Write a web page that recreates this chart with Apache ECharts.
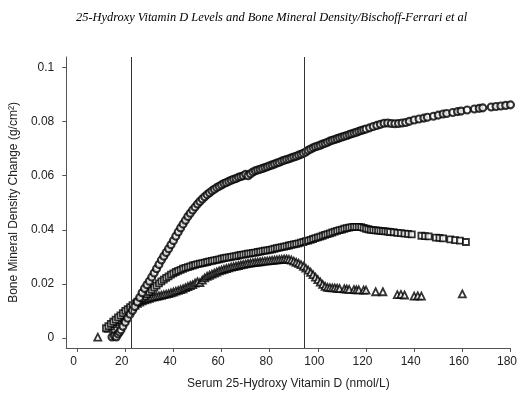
<!DOCTYPE html>
<html>
<head>
<meta charset="utf-8">
<script src="https://cdn.jsdelivr.net/npm/echarts/dist/echarts.min.js"></script>
<style>html,body{margin:0;padding:0;background:#fff}#c{width:520px;height:395px}</style>
</head>
<body>
<div id="c"></div>
<script>
const titleText = '25-Hydroxy Vitamin D Levels and Bone Mineral Density/Bischoff-Ferrari et al';
const xName = 'Serum 25-Hydroxy Vitamin D (nmol/L)';
const yName = 'Bone Mineral Density Change (g/cm\u00B2)';
const xTicks = [0,20,40,60,80,100,120,140,160,180];
const yTicks = [0,0.02,0.04,0.06,0.08,0.1];
const yTickLabels = ['0','0.02','0.04','0.06','0.08','0.1'];
const refLines = [22.4, 94.3];

const circlePts = [[14.5,0.0004],[15.5,0.0008],[16.3,0.0004],[17,0.0015],[17.6,0.0022],[18.2,0.003],[19,0.0043],[20,0.0058],[21,0.0073],[22,0.0088],[23,0.0102],[24,0.0116],[25,0.0133],[26,0.015],[27,0.0167],[28,0.0183],[29,0.0197],[30,0.021],[31,0.0225],[32,0.024],[33,0.0256],[34,0.0272],[35,0.0288],[36,0.0302],[37,0.0316],[38,0.033],[39,0.0345],[40,0.036],[41,0.0376],[42,0.0392],[43,0.0407],[44,0.0421],[45,0.0435],[46,0.0449],[47,0.0461],[48,0.0473],[49,0.0484],[50,0.0495],[51,0.0505],[52,0.0514],[53,0.0522],[54,0.053],[55,0.0537],[56,0.0544],[57,0.055],[58,0.0556],[59,0.0561],[60,0.0566],[61,0.0571],[62,0.0575],[63,0.0579],[64,0.0583],[65,0.0587],[66,0.059],[67,0.0594],[68,0.0597],[69,0.06],[70,0.0605],[71,0.06],[72,0.0607],[73,0.0614],[74,0.0618],[75,0.0621],[76,0.0624],[77,0.0627],[78,0.063],[79,0.0633],[80,0.0637],[81,0.064],[82,0.0643],[83,0.0647],[84,0.065],[85,0.0654],[86,0.0657],[87,0.066],[88,0.0663],[89,0.0666],[90,0.0669],[91,0.0672],[92,0.0676],[93,0.0679],[94,0.0683],[95,0.0688],[96,0.0694],[97,0.0699],[98,0.0703],[99,0.0707],[100,0.071],[101,0.0713],[102,0.0717],[103,0.072],[104,0.0724],[105,0.0728],[106,0.0731],[107,0.0734],[108,0.0737],[109,0.074],[110,0.0743],[111,0.0746],[112,0.0749],[113,0.0752],[114,0.0755],[115,0.0758],[116,0.0761],[117,0.0764],[118,0.0767],[119,0.077],[120,0.0773],[121.5,0.0777],[123,0.0782],[124.5,0.0786],[126,0.079],[127.5,0.0794],[129,0.0795],[130.5,0.0793],[132,0.0792],[133.5,0.0793],[135,0.0795],[136.5,0.0797],[138,0.0801],[140,0.0806],[142,0.081],[144,0.0813],[145.5,0.0816],[148,0.082],[150,0.0824],[152,0.0828],[153.5,0.083],[156,0.0834],[158,0.0837],[159.5,0.0839],[162,0.0843],[165,0.0847],[167,0.0849],[168.5,0.0851],[172,0.0854],[174,0.0856],[176,0.0858],[178,0.086],[180,0.0862]];

const squarePts = [[12,0.0036],[13,0.0044],[14,0.0052],[15,0.006],[16,0.0068],[17,0.0076],[18,0.0084],[19,0.0092],[20,0.01],[21,0.0107],[22,0.0114],[23,0.0121],[24,0.0128],[25,0.0134],[26,0.014],[27,0.0147],[28,0.0154],[29,0.0162],[30,0.017],[31,0.0178],[32,0.0186],[33,0.0194],[34,0.0202],[35,0.0209],[36,0.0216],[37,0.0222],[38,0.0228],[39,0.0234],[40,0.0239],[41,0.0244],[42,0.0248],[43,0.0252],[44,0.0256],[45,0.0259],[46,0.0262],[47,0.0265],[48,0.0268],[49,0.027],[50,0.0273],[51,0.0275],[52,0.0277],[53,0.0279],[54,0.0281],[55,0.0283],[56,0.0285],[57,0.0287],[58,0.0289],[59,0.0291],[60,0.0293],[61,0.0295],[62,0.0297],[63,0.0298],[64,0.03],[65,0.0302],[66,0.0303],[67,0.0305],[68,0.0307],[69,0.0308],[70,0.031],[71,0.0312],[72,0.0313],[73,0.0315],[74,0.0316],[75,0.0318],[76,0.0319],[77,0.0321],[78,0.0323],[79,0.0324],[80,0.0326],[81,0.0328],[82,0.033],[83,0.0332],[84,0.0334],[85,0.0336],[86,0.0338],[87,0.034],[88,0.0342],[89,0.0344],[90,0.0346],[91,0.0348],[92,0.035],[93,0.0353],[94,0.0355],[95,0.0358],[96,0.036],[97,0.0363],[98,0.0366],[99,0.0369],[100,0.0372],[101,0.0375],[102,0.0378],[103,0.0381],[104,0.0384],[105,0.0387],[106,0.039],[107,0.0393],[108,0.0396],[109,0.0399],[110,0.0401],[111,0.0404],[112,0.0406],[113,0.0408],[114,0.041],[115,0.0411],[116,0.0411],[117,0.0411],[118,0.041],[119,0.0407],[120,0.0404],[121,0.0402],[122,0.04],[123,0.0399],[124,0.0398],[125,0.0397],[126,0.0396],[127,0.0395],[128,0.0394],[129,0.0393],[130,0.0392],[131.5,0.0391],[133,0.0389],[134.5,0.0388],[136,0.0386],[137.5,0.0385],[139,0.0383],[143,0.0378],[144.5,0.0377],[146,0.0376],[149,0.0371],[150.5,0.037],[152,0.0368],[155,0.0365],[157,0.0362],[159,0.036],[161.5,0.0355]];

const trianglePts = [[8.6,0.0003],[13,0.0036],[14,0.0044],[15,0.0052],[16,0.006],[17,0.0068],[18,0.0076],[19,0.0084],[20,0.0092],[21,0.01],[22,0.0108],[23,0.0115],[24,0.0122],[25,0.0128],[26,0.0133],[27,0.0137],[28,0.0141],[29,0.0144],[30,0.0147],[31,0.015],[32,0.0152],[33,0.0154],[34,0.0156],[35,0.0158],[36,0.016],[37,0.0162],[38,0.0164],[39,0.0167],[40,0.017],[41,0.0173],[42,0.0176],[43,0.0179],[44,0.0182],[45,0.0186],[46,0.019],[47,0.0194],[48,0.0197],[49,0.0203],[50,0.0208],[51,0.0205],[52,0.0214],[53,0.0222],[54,0.0228],[55,0.0232],[56,0.0236],[57,0.024],[58,0.0244],[59,0.0248],[60,0.0251],[61,0.0254],[62,0.0257],[63,0.0259],[64,0.0262],[65,0.0264],[66,0.0266],[67,0.0268],[68,0.027],[69,0.0272],[70,0.0274],[71,0.0276],[72,0.0277],[73,0.0279],[74,0.028],[75,0.0281],[76,0.0282],[77,0.0283],[78,0.0284],[79,0.0285],[80,0.0286],[81,0.0287],[82,0.0288],[83,0.0289],[84,0.029],[85,0.0291],[86,0.0292],[87,0.0292],[88,0.0291],[89,0.0288],[90,0.0284],[91,0.028],[92,0.0276],[93,0.0271],[94,0.0265],[95,0.0258],[96,0.0251],[97,0.0243],[98,0.0234],[99,0.0225],[100,0.0216],[101,0.0207],[102,0.0198],[103,0.0191],[104,0.0187],[105,0.0186],[106,0.0185],[107,0.0185],[108,0.0184],[109,0.0183],[111,0.0182],[112,0.0181],[113,0.018],[115,0.0179],[116,0.0178],[117,0.0178],[119,0.0177],[120,0.0177],[124,0.0171],[127,0.0171],[133,0.016],[134.5,0.0161],[136,0.0159],[140,0.0155],[141.5,0.0156],[143,0.0155],[160,0.0163]];

const font = "'Liberation Sans', Arial, sans-serif";
const chart = echarts.init(document.getElementById('c'), null, {renderer:'canvas'});
const mk = (bw) => ({color:'#fff', borderColor:'#000', borderWidth:bw});
chart.setOption({
  animation: false,
  backgroundColor: '#fff',
  title: {
    text: titleText, left: 71, top: 7,
    textStyle: {fontFamily: "'Liberation Serif', 'Times New Roman', serif", fontStyle:'italic', fontWeight:'normal', fontSize: 12.4, color:'#000'}
  },
  grid: {left: 63, right: 5, top: 57, bottom: 47},
  xAxis: {
    type: 'value', min: -4.5, max: 180,
    name: xName, nameLocation: 'middle', nameGap: 30,
    nameTextStyle: {fontFamily: font, fontSize: 12, color:'#222'},
    axisLine: {show:true, onZero:false, lineStyle:{color:'#555', width:1}},
    axisTick: {show:true, length:4, inside:false, customValues: xTicks, lineStyle:{color:'#555'}},
    axisLabel: {customValues: xTicks, margin: 8, fontFamily: font, fontSize: 12, color:'#222', padding:[0,7,0,0]},
    splitLine: {show:false}
  },
  yAxis: {
    type: 'value', min: -0.0037, max: 0.1039,
    name: yName, nameLocation: 'middle', nameGap: 42,
    nameTextStyle: {fontFamily: font, fontSize: 12, color:'#222'},
    axisLine: {show:true, onZero:false, lineStyle:{color:'#555', width:1}},
    axisTick: {show:true, length:4, inside:false, customValues: yTicks, lineStyle:{color:'#555'}},
    axisLabel: {customValues: yTicks, margin: 12, fontFamily: font, fontSize: 12, color:'#222',
      formatter: v => { const i = yTicks.findIndex(t => Math.abs(t - v) < 1e-9); return i >= 0 ? yTickLabels[i] : ''; }},
    splitLine: {show:false}
  },
  series: [
    {type:'scatter', name:'triangles', data: trianglePts, symbol:'triangle', symbolSize:7, itemStyle: mk(1.8), z:2},
    {type:'scatter', name:'squares', data: squarePts, symbol:'rect', symbolSize:[6,6], itemStyle: mk(1.8), z:3},
    {type:'scatter', name:'circles', data: circlePts, symbol:'circle', symbolSize:7, itemStyle: mk(2.1), z:4,
      markLine: {silent:true, symbol:['none','none'], label:{show:false},
        lineStyle:{color:'#333', width:1, type:'solid'},
        data: refLines.map(v => ({xAxis: v}))}}
  ]
});
</script>
</body>
</html>
